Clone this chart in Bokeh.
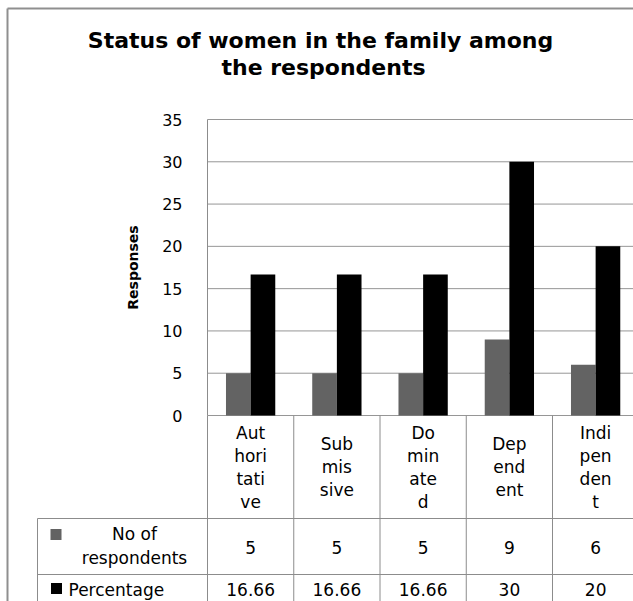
from bokeh.plotting import figure
from bokeh.models import Range1d, FixedTicker, LinearAxis
from bokeh.embed import file_html
from bokeh.resources import INLINE
from bokeh.core.properties import value

# ---------------- data ----------------
title_lines = ["Status of women in the family among", "the respondents"]
categories = ["Authoritative", "Submissive", "Dominated", "Dependent", "Indipendent"]
category_label_lines = [["Aut", "hori", "tati", "ve"],
                        ["Sub", "mis", "sive"],
                        ["Do", "min", "ate", "d"],
                        ["Dep", "end", "ent"],
                        ["Indi", "pen", "den", "t"]]
respondents = [5, 5, 5, 9, 6]
percentage = [16.66, 16.66, 16.66, 30, 20]
respondents_labels = ["5", "5", "5", "9", "6"]
percentage_labels = ["16.66", "16.66", "16.66", "30", "20"]
series1_name_lines = ["No of", "respondents"]
series2_name = "Percentage"
y_ticks = [0, 5, 10, 15, 20, 25, 30, 35]
y_axis_title = "Responses"

# ---------------- layout constants (canvas pixels) ----------------
GRAY = "#636363"
LINE = "#8c8c8c"
GRID = "#969696"
BORDER = "#8f8f8f"
FONT = "DejaVu Sans"
W, H = 633, 601
CAT_W = 86.25          # px per category
FRAME_L = 207          # x of category 0 start
ZERO_Y = 415           # y of value 0
PX_PER_UNIT = 296 / 35.0


def px_x(cx):
    return (cx - FRAME_L) / CAT_W


def px_y(cy):
    return (ZERO_Y - cy) / PX_PER_UNIT


n = len(categories)
centers = [i + 0.5 for i in range(n)]
bar_w = 1.0 / 3.5

p = figure(width=W, height=H, output_backend="svg", toolbar_location=None,
           x_range=Range1d(px_x(0), px_x(W)), y_range=Range1d(px_y(H), px_y(0)),
           x_axis_location=None, y_axis_location=None,
           min_border=0, min_border_left=0, min_border_right=0,
           min_border_top=0, min_border_bottom=0)
p.outline_line_color = None
p.xgrid.visible = False
p.ygrid.visible = False
p.background_fill_color = "white"
p.border_fill_color = "white"

# outer chart-area border (left and top edges are visible)
p.segment(x0=[px_x(7), px_x(7)], x1=[px_x(7), px_x(W + 5)],
          y0=[px_y(8), px_y(8)], y1=[px_y(H + 5), px_y(8)],
          line_color=BORDER, line_width=2)

# horizontal gridlines over the plot area
p.segment(x0=[0] * len(y_ticks), x1=[n] * len(y_ticks), y0=y_ticks, y1=y_ticks,
          line_color=GRID, line_width=1)

# value axis
ax = LinearAxis(fixed_location=0, bounds=(0, 35), ticker=FixedTicker(ticks=y_ticks))
ax.axis_line_color = LINE
ax.major_tick_out = 0
ax.major_tick_in = 0
ax.minor_tick_out = 0
ax.minor_tick_in = 0
ax.major_label_standoff = 25
ax.major_label_text_font = FONT
ax.major_label_text_font_size = "16px"
ax.major_label_text_color = "black"
ax.axis_label = y_axis_title
ax.axis_label_text_font = FONT
ax.axis_label_text_font_style = "bold"
ax.axis_label_text_font_size = "14px"
ax.axis_label_text_color = "black"
ax.axis_label_standoff = 18
p.add_layout(ax, "left")

# bars
p.vbar(x=[c - bar_w / 2 for c in centers], top=respondents, width=bar_w,
       fill_color=GRAY, line_color=None)
p.vbar(x=[c + bar_w / 2 for c in centers], top=percentage, width=bar_w,
       fill_color="black", line_color=None)

# title
p.text(x=[px_x(320), px_x(323)], y=[px_y(40), px_y(67)], text=title_lines,
       text_align="center", text_baseline="middle", text_font=value(FONT),
       text_font_style="bold", text_font_size="22px", text_color="black")

# ---------------- data table ----------------
TBL_TOP = 415
ROW1_TOP = 518
ROW2_TOP = 574
TBL_BOT = H + 5
LEFT_COL = 37
TFS = "17px"

vx = list(range(n + 1))
p.segment(x0=vx, x1=vx, y0=[px_y(TBL_TOP)] * len(vx), y1=[px_y(TBL_BOT)] * len(vx),
          line_color=LINE, line_width=1)
p.segment(x0=[px_x(LEFT_COL)], x1=[px_x(LEFT_COL)], y0=[px_y(ROW1_TOP)], y1=[px_y(TBL_BOT)],
          line_color=LINE, line_width=1)
p.segment(x0=[px_x(LEFT_COL)] * 2, x1=[n, n], y0=[px_y(ROW1_TOP), px_y(ROW2_TOP)],
          y1=[px_y(ROW1_TOP), px_y(ROW2_TOP)], line_color=LINE, line_width=1)

cat_center = (TBL_TOP + ROW1_TOP) / 2
lx, ly, lt = [], [], []
for c, lines in zip(centers, category_label_lines):
    k = len(lines)
    for j, s in enumerate(lines):
        lx.append(c)
        ly.append(px_y(cat_center + (j - (k - 1) / 2) * 23))
        lt.append(s)
p.text(x=lx, y=ly, text=lt, text_align="center", text_baseline="middle",
       text_font=value(FONT), text_font_size=TFS, text_color="black")

row1_c = (ROW1_TOP + ROW2_TOP) / 2 + 1
row2_c = 589
p.text(x=centers, y=[px_y(row1_c)] * n, text=respondents_labels, text_align="center",
       text_baseline="middle", text_font=value(FONT), text_font_size=TFS,
       text_color="black")
p.text(x=centers, y=[px_y(row2_c)] * n, text=percentage_labels, text_align="center",
       text_baseline="middle", text_font=value(FONT), text_font_size=TFS,
       text_color="black")

p.text(x=[px_x(134)] * 2, y=[px_y(533), px_y(557)], text=series1_name_lines,
       text_align="center", text_baseline="middle", text_font=value(FONT),
       text_font_size=TFS, text_color="black")
p.text(x=[px_x(68)], y=[px_y(row2_c)], text=[series2_name], text_align="left",
       text_baseline="middle", text_font=value(FONT), text_font_size=TFS,
       text_color="black")

p.scatter(x=[px_x(55.5)], y=[px_y(534)], marker="square", size=11,
          fill_color=GRAY, line_color=None)
p.scatter(x=[px_x(56)], y=[px_y(588)], marker="square", size=11,
          fill_color="black", line_color=None)

open("out.html", "w").write(file_html(p, INLINE))
